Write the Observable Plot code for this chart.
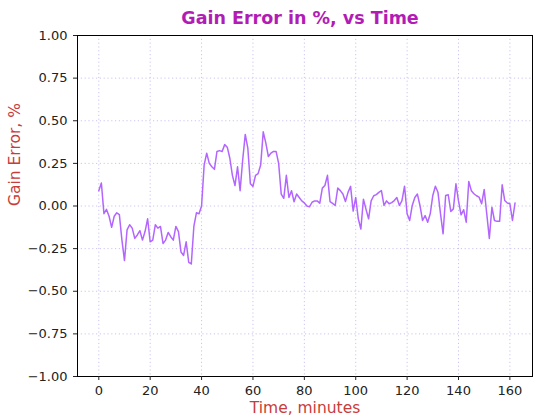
<!DOCTYPE html>
<html>
<head>
<meta charset="utf-8">
<script src="https://cdn.jsdelivr.net/npm/d3@7"></script>
<script src="https://cdn.jsdelivr.net/npm/@observablehq/plot@0.6"></script>
<style>
  body { margin: 0; background: white; font-family: "DejaVu Sans", sans-serif; }
  #wrap { width: 533px; height: 416px; position: relative; overflow: hidden; }
  #title { height: 28px; width: 533px; position: relative; }
  #title span { position: absolute; left: 300px; top: 8px; transform: translateX(-50%); white-space: nowrap;
    font-family: "DejaVu Sans", sans-serif; font-weight: bold; font-size: 17.5px; color: #b21cb5; line-height: 20px; }
  svg { display: block; overflow: visible; }
</style>
</head>
<body>
<div id="wrap">
  <div id="title"><span>Gain Error in %, vs Time</span></div>
  <div id="chart"></div>
</div>
<script>
const times = [0,1,2,3,4,5,6,7,8,9,10,11,12,13,14,15,16,17,18,19,20,21,22,23,24,25,26,27,28,29,30,31,32,33,34,35,36,37,38,39,40,41,42,43,44,45,46,47,48,49,50,51,52,53,54,55,56,57,58,59,60,61,62,63,64,65,66,67,68,69,70,71,72,73,74,75,76,77,78,79,80,81,82,83,84,85,86,87,88,89,90,91,92,93,94,95,96,97,98,99,100,101,102,103,104,105,106,107,108,109,110,111,112,113,114,115,116,117,118,119,120,121,122,123,124,125,126,127,128,129,130,131,132,133,134,135,136,137,138,139,140,141,142,143,144,145,146,147,148,149,150,151,152,153,154,155,156,157,158,159,160,161,162];
const gainError = [
  0.09,0.135,-0.045,-0.02,-0.06,-0.125,-0.06,-0.04,-0.05,-0.2,
  -0.32,-0.14,-0.11,-0.13,-0.19,-0.17,-0.145,-0.2,-0.15,-0.075,
  -0.21,-0.2,-0.11,-0.13,-0.12,-0.22,-0.2,-0.155,-0.18,-0.2,
  -0.12,-0.15,-0.27,-0.29,-0.21,-0.33,-0.34,-0.12,-0.04,-0.045,
  0.0,0.24,0.31,0.25,0.23,0.215,0.32,0.325,0.32,0.36,
  0.345,0.28,0.18,0.12,0.23,0.09,0.27,0.42,0.34,0.13,
  0.115,0.18,0.19,0.24,0.435,0.37,0.29,0.31,0.32,0.32,
  0.25,0.07,0.045,0.18,0.05,0.09,0.025,0.07,0.05,0.03,
  0.018,0.0,-0.005,0.022,0.03,0.03,0.016,0.105,0.12,0.18,
  0.026,0.015,0.003,0.105,0.09,0.07,0.026,0.08,0.115,-0.03,
  0.05,-0.075,-0.135,0.04,-0.02,-0.075,0.03,0.06,0.067,0.08,
  0.09,0.003,0.03,0.013,0.02,0.032,0.05,0.003,0.032,0.116,
  -0.046,-0.085,0.003,0.05,0.07,0.003,-0.085,-0.056,-0.095,-0.046,
  0.062,0.116,0.081,-0.046,-0.163,0.062,0.066,-0.032,-0.017,0.13,
  0.03,-0.052,-0.022,-0.095,0.144,0.09,0.072,0.06,0.052,0.013,
  0.097,-0.046,-0.19,-0.007,-0.085,-0.09,-0.09,0.124,0.032,0.018,
  0.013,-0.085,0.018
];
const xTicks = [0,20,40,60,80,100,120,140,160];
const yTicks = [-1,-0.75,-0.5,-0.25,0,0.25,0.5,0.75,1];

const data = times.map((t, i) => ({t, v: gainError[i]}));
const gridColor = "#cbc3f2";
const labelColor = "#c83c3c";

const chart = Plot.plot({
  width: 533,
  height: 388,
  marginTop: 7,
  marginBottom: 40,
  marginLeft: 77,
  marginRight: 1,
  style: {fontFamily: "DejaVu Sans, sans-serif", fontSize: "13px", color: "#222", background: "white"},
  x: {domain: [-8.29, 168.8], label: null},
  y: {domain: [-1, 1], label: null},
  marks: [
    Plot.ruleX(xTicks, {stroke: gridColor, strokeWidth: 1, strokeDasharray: "1.2,2.6"}),
    Plot.ruleY(yTicks, {stroke: gridColor, strokeWidth: 1, strokeDasharray: "1.2,2.6"}),
    Plot.line(data, {x: "t", y: "v", stroke: "#b266ff", strokeWidth: 1.5}),
    Plot.frame({stroke: "#000", strokeWidth: 1}),
    Plot.axisX({ticks: xTicks, tickSize: 4, tickPadding: 5, fontSize: 13, label: null}),
    Plot.axisY({ticks: yTicks, tickFormat: d3.format(".2f"), tickSize: 4, tickPadding: 6, fontSize: 13, label: null}),
    Plot.text(["Time, minutes"], {frameAnchor: "bottom", dy: 32, fill: labelColor, fontSize: 15.5, lineAnchor: "middle"}),
    Plot.text(["Gain Error, %"], {frameAnchor: "left", dx: -62, rotate: -90, fill: labelColor, fontSize: 15.5})
  ]
});
document.getElementById("chart").appendChild(chart);
</script>
</body>
</html>
